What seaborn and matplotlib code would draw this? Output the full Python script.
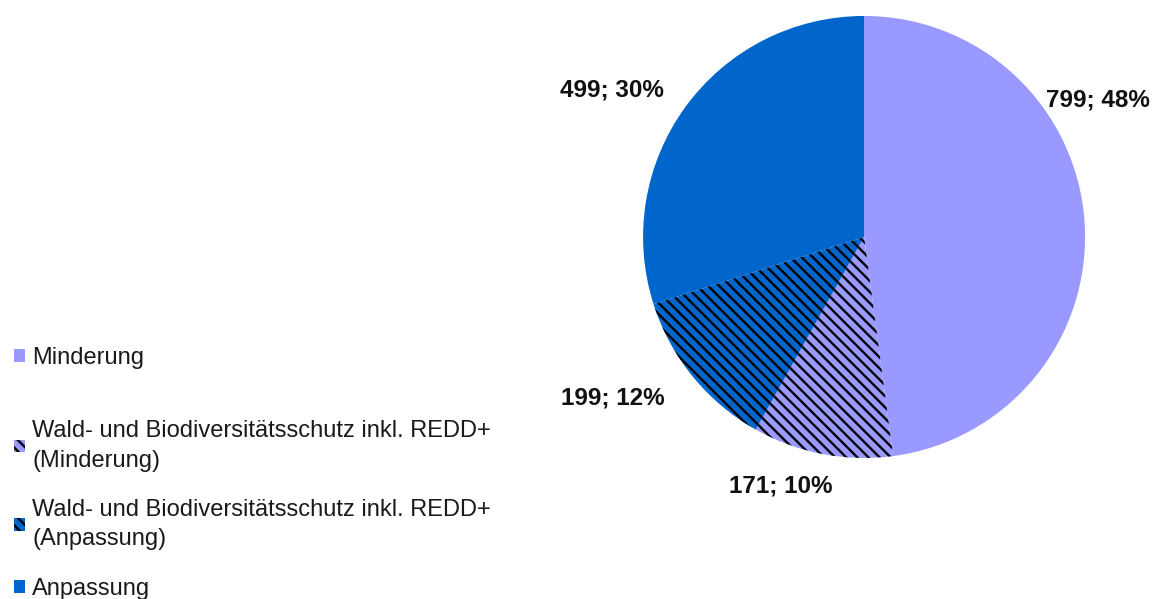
import matplotlib
matplotlib.use("Agg")
import matplotlib.pyplot as plt
import seaborn as sns

categories = ["Minderung",
              "Wald- und Biodiversitätsschutz inkl. REDD+\n(Minderung)",
              "Wald- und Biodiversitätsschutz inkl. REDD+\n(Anpassung)",
              "Anpassung"]
values = [799, 171, 199, 499]
percents = [48, 10, 12, 30]
colors = ["#9999FF", "#9999FF", "#0066CC", "#0066CC"]
hatches = [None, "\\\\\\", "\\\\\\", None]

sns.set_theme(style="white")
plt.rcParams['font.family'] = ['Liberation Sans', 'DejaVu Sans']
plt.rcParams['hatch.linewidth'] = 1.7

fig = plt.figure(figsize=(11.65, 5.99), dpi=100)
ax = fig.add_axes([0.552, 0.2354, 0.3794, 0.738])

wedges, _ = ax.pie(values, colors=colors, startangle=90, counterclock=False,
                   wedgeprops=dict(linewidth=0))
for w, h in zip(wedges, hatches):
    if h:
        w.set_edgecolor("black")  # sets hatch colour, edge stays 0 width
        w.set_linewidth(0)
        w.set_hatch(h)
ax.set_xlim(-1, 1)
ax.set_ylim(-1, 1)
ax.set_aspect("equal")

# label positions (in radius units), placed like the original
label_pos = [(1.059, 0.62), (-0.376, -1.127), (-1.136, -0.729), (-1.14, 0.665)]
for (x, y), v, p in zip(label_pos, values, percents):
    ax.text(x, y, f"{v}; {p}%", ha="center", va="center",
            fontsize=17.5, fontweight="bold", color="#111111", clip_on=False)

leg_kw = dict(frameon=False, fontsize=17, handlelength=0.45, handleheight=0.45,
              handletextpad=0.33, borderaxespad=0, borderpad=0,
              labelcolor="#1a1a1a")
leg1 = fig.legend(wedges[:1], categories[:1], loc="center left",
                  bbox_to_anchor=(0.012, 1 - 358 / 599), **leg_kw)
leg2 = fig.legend(wedges[1:], categories[1:], loc="upper left",
                  bbox_to_anchor=(0.012, 1 - 420 / 599), labelspacing=1.15, **leg_kw)
for t in leg2.get_texts():
    t.set_linespacing(1.45)

fig.savefig("out.png", dpi=100)
